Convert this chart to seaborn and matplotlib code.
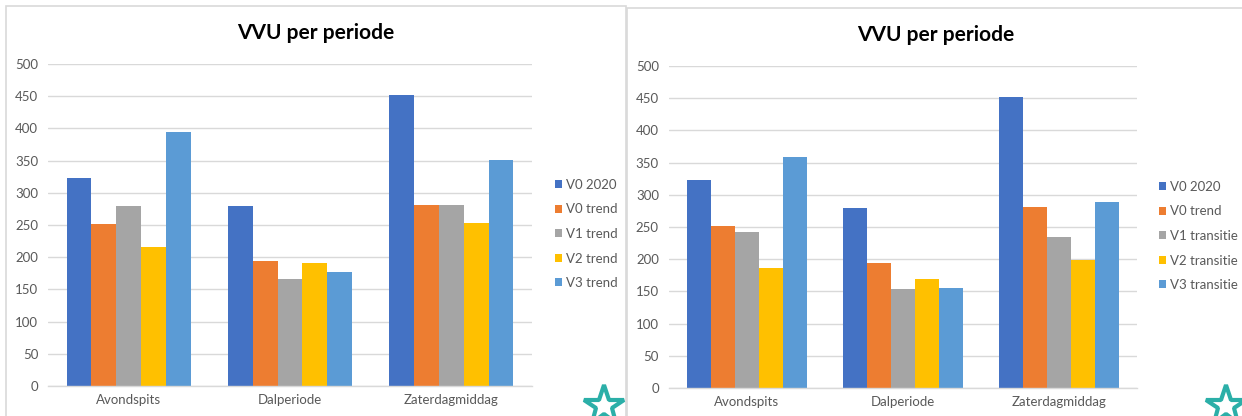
import matplotlib
matplotlib.use("Agg")
import matplotlib.pyplot as plt
import numpy as np
import pandas as pd
import seaborn as sns
from matplotlib.patches import Rectangle
from matplotlib.lines import Line2D

# ---------------- data ----------------
periods = ["Avondspits", "Dalperiode", "Zaterdagmiddag"]
left_series = ["V0 2020", "V0 trend", "V1 trend", "V2 trend", "V3 trend"]
right_series = ["V0 2020", "V0 trend", "V1 transitie", "V2 transitie", "V3 transitie"]

v0_2020 = [323, 280, 452]
v0_trend = [251, 194, 281]
v1_trend = [279, 166, 281]
v2_trend = [216, 191, 253]
v3_trend = [395, 177, 351]
v1_transitie = [243, 153, 234]
v2_transitie = [186, 169, 199]
v3_transitie = [358, 155, 289]

yticks = [0, 50, 100, 150, 200, 250, 300, 350, 400, 450, 500]
title = "VVU per periode"
colors = ["#4472C4", "#ED7D31", "#A5A5A5", "#FFC000", "#5B9BD5"]

left_values = [v0_2020, v0_trend, v1_trend, v2_trend, v3_trend]
right_values = [v0_2020, v0_trend, v1_transitie, v2_transitie, v3_transitie]


def long_df(series, values):
    rows = []
    for s, vals in zip(series, values):
        for p, v in zip(periods, vals):
            rows.append({"Periode": p, "Scenario": s, "VVU": v})
    return pd.DataFrame(rows)


# ---------------- style ----------------
sns.set_theme(style="white")
plt.rcParams["font.family"] = ["Lato", "DejaVu Sans"]

W, H = 1242, 416
fig = plt.figure(figsize=(W / 100, H / 100), dpi=100)
fig.patch.set_facecolor("white")

GRID = "#D9D9D9"
TXT = "#595959"


def px_axes(x0, y_top, x1, y_bot):
    return fig.add_axes([x0 / W, 1 - y_bot / H, (x1 - x0) / W, (y_bot - y_top) / H])


def draw_panel(ax, series, values, title_xy, legend_xy):
    df = long_df(series, values)
    sns.barplot(data=df, x="Periode", y="VVU", hue="Scenario", order=periods,
                hue_order=series, palette=colors, saturation=1, width=0.77,
                linewidth=0, errorbar=None, ax=ax)
    ax.set_xlim(-0.5, 2.5)
    ax.set_ylim(0, 500)
    ax.set_yticks(yticks)
    ax.set_yticklabels([str(t) for t in yticks])
    ax.set_xlabel("")
    ax.set_ylabel("")
    ax.set_axisbelow(True)
    ax.yaxis.grid(True, color=GRID, linewidth=1.0)
    ax.xaxis.grid(False)
    for s in ["top", "right", "left"]:
        ax.spines[s].set_visible(False)
    ax.spines["bottom"].set_color(GRID)
    ax.spines["bottom"].set_linewidth(1.0)
    ax.tick_params(axis="y", length=0, pad=7, labelsize=9.5, labelcolor=TXT)
    ax.tick_params(axis="x", length=0, pad=6, labelsize=9.5, labelcolor=TXT)
    ax.set_facecolor("white")

    handles, labels = ax.get_legend_handles_labels()
    if ax.legend_ is not None:
        ax.legend_.remove()
    ax.legend(handles, labels, loc="center left",
              bbox_to_anchor=(legend_xy[0] / W, 1 - legend_xy[1] / H),
              bbox_transform=fig.transFigure, frameon=False,
              fontsize=9.5, labelcolor=TXT, handlelength=0.55,
              handleheight=0.55, handletextpad=0.3, labelspacing=0.95,
              borderpad=0, borderaxespad=0)

    fig.text(title_xy[0] / W, 1 - title_xy[1] / H, title, ha="center",
             va="center", fontsize=15, fontweight="bold", color="#000000")


# panel frames
fig.add_artist(Rectangle((6 / W, -0.05), 620 / W, 1.05 - 6 / H,
                         transform=fig.transFigure, fill=False,
                         edgecolor=GRID, linewidth=1.2))
fig.add_artist(Rectangle((627 / W, -0.05), 630 / W, 1.05 - 8 / H,
                         transform=fig.transFigure, fill=False,
                         edgecolor=GRID, linewidth=1.2))

ax1 = px_axes(48, 64, 532, 386)
draw_panel(ax1, left_series, left_values, (316, 33), (555, 234))

ax2 = px_axes(668.6, 66, 1136.6, 388)
draw_panel(ax2, right_series, right_values, (936, 35), (1159, 236))

# star logos (decoration)
for cx in (604, 1226):
    fig.add_artist(Line2D([cx / W], [1 - 406 / H], marker="*", markersize=30,
                          markerfacecolor="white", markeredgecolor="#2BAFA8",
                          markeredgewidth=3, transform=fig.transFigure))

fig.savefig("out.png", dpi=100, facecolor="white")
